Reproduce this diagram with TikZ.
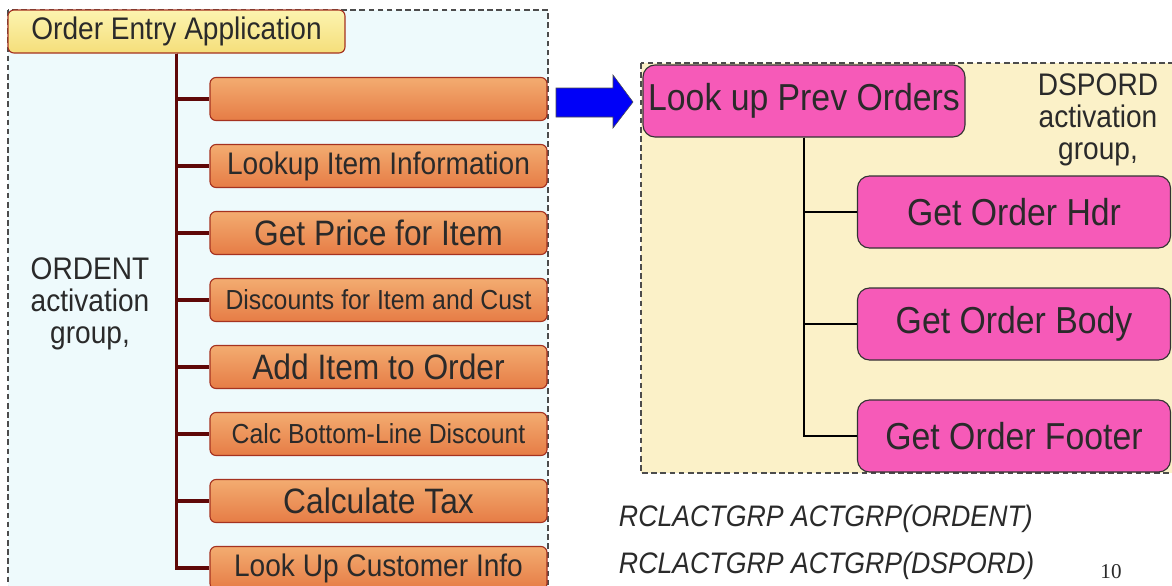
\documentclass[tikz,border=0pt]{standalone}
\usepackage{fontspec}
\setmainfont[FakeStretch=0.9]{Liberation Sans}
\newfontfamily\pagenumfont{Liberation Serif}
\usetikzlibrary{trees}
\definecolor{appyellowtop}{RGB}{252,244,176}
\definecolor{appyellowbot}{RGB}{245,222,122}
\definecolor{steptop}{RGB}{243,172,112}
\definecolor{stepbot}{RGB}{230,124,70}
\definecolor{stepline}{RGB}{165,50,32}
\definecolor{trunk}{RGB}{95,8,8}
\definecolor{ordpink}{RGB}{246,90,184}
\definecolor{leftbg}{RGB}{238,250,252}
\definecolor{rightbg}{RGB}{251,241,200}
\definecolor{txtgray}{RGB}{42,42,42}
\definecolor{arrowblue}{RGB}{0,0,248}
\tikzset{
  appnode/.style = {rectangle, rounded corners=0.15cm, draw=stepline, thick,
    top color=appyellowtop, bottom color=appyellowbot, text=txtgray,
    minimum width=8.425cm, minimum height=1.075cm, inner sep=0pt},
  stepnode/.style = {appnode, top color=steptop, bottom color=stepbot},
  ordnode/.style = {rectangle, rounded corners=0.3cm, draw=black!80, thick,
    fill=ordpink, text=txtgray, minimum height=1.8cm, inner sep=0pt,
    font=\fontsize{26.7}{30}\selectfont},
  grptext/.style = {align=center, text=txtgray,
    font=\fontsize{22.2}{22.7}\selectfont},
  cmdtext/.style = {anchor=west, text=txtgray,
    font=\fontsize{21.1}{24}\selectfont\itshape},
  groupbox/.style = {draw=black!70, thick, dash pattern=on 4pt off 2.5pt},
  smalltext/.style = {font=\fontsize{19.6}{22}\selectfont},
  midtext/.style = {font=\fontsize{22.2}{25}\selectfont},
  bigtext/.style = {font=\fontsize{25.1}{28}\selectfont},
}

\begin{document}
\begin{tikzpicture}
  \useasboundingbox (0,0) rectangle (29.3,-14.625);
  \clip (0,0) rectangle (29.3,-14.625);
  \fill[white] (0,0) rectangle (29.3,-14.625);
  \filldraw[groupbox, fill=leftbg] (0.2,-0.25) rectangle (13.7,-15.2);
  \filldraw[groupbox, fill=rightbg] (16.025,-1.575) rectangle (29.8,-11.825);

  \begin{scope}[grow via three points={one child at (5.05,-1.6875) and
      two children at (5.05,-1.6875) and (5.05,-3.3625)},
    edge from parent path={(\tikzparentnode.south) |- (\tikzchildnode.west)},
    edge from parent/.style={draw=trunk, line width=2.6pt}]
    \node [appnode, midtext] (app) at (4.4125,-0.7875) {Order Entry Application}
      child{ node [stepnode] (s1) {}}
      child{ node [stepnode, midtext] (s2) {Lookup Item Information}}
      child{ node [stepnode, bigtext] (s3) {Get Price for Item}}
      child{ node [stepnode, smalltext] (s4) {Discounts for Item and Cust}}
      child{ node [stepnode, bigtext] (s5) {Add Item to Order}}
      child{ node [stepnode, smalltext] (s6) {Calc Bottom-Line Discount}}
      child{ node [stepnode, bigtext] (s7) {Calculate Tax}}
      child{ node [stepnode, midtext] (s8) {Look Up Customer Info}};
  \end{scope}

  \begin{scope}[grow via three points={one child at (5.25,-2.775) and
      two children at (5.25,-2.775) and (5.25,-5.575)},
    edge from parent path={(\tikzparentnode.south) |- (\tikzchildnode.west)},
    edge from parent/.style={draw=black, line width=2pt}]
    \node [ordnode, minimum width=8.05cm] (prev) at (20.1,-2.525) {Look up Prev Orders}
      child{ node [ordnode, minimum width=7.825cm] (hdr) {Get Order Hdr}}
      child{ node [ordnode, minimum width=7.825cm] (body) {Get Order Body}}
      child{ node [ordnode, minimum width=7.825cm] (foot) {Get Order Footer}};
  \end{scope}

  \filldraw[fill=arrowblue, draw=black!70, thin]
    (13.9,-2.2) -- (15.325,-2.2) -- (15.325,-1.875) -- (15.825,-2.55)
    -- (15.325,-3.2) -- (15.325,-2.925) -- (13.9,-2.925) -- cycle;

  \node [grptext] (ordent) at (2.25,-7.6) {ORDENT\\activation\\group,};
  \node [grptext] (dspord) at (27.45,-3.0) {DSPORD\\activation\\group,};
  \node [cmdtext] (rcl1) at (15.35,-12.975) {RCLACTGRP ACTGRP(ORDENT)};
  \node [cmdtext] (rcl2) at (15.35,-14.15) {RCLACTGRP ACTGRP(DSPORD)};
  \node [text=txtgray, font=\pagenumfont\fontsize{15}{17}\selectfont] (pgno)
    at (27.775,-14.3) {10};
\end{tikzpicture}
\end{document}
